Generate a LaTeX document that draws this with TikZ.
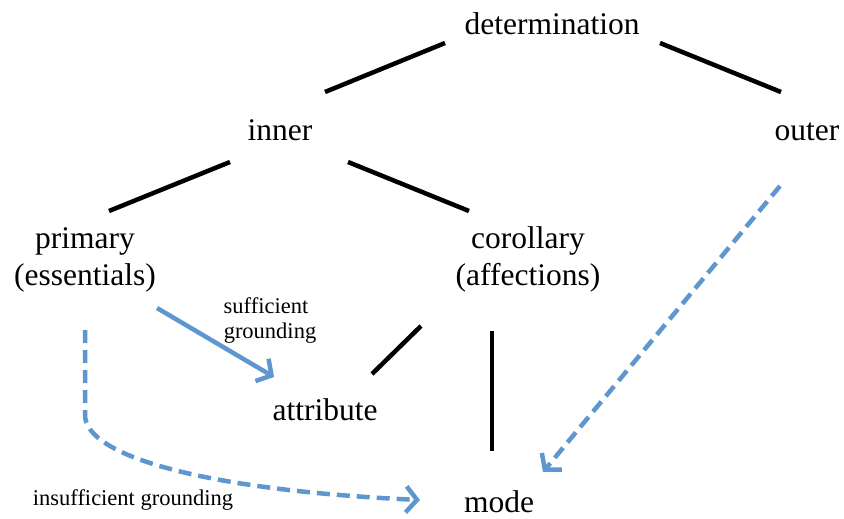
\documentclass[tikz,border=0pt]{standalone}
\usepackage{fontspec}
\setmainfont{Liberation Serif}
\usetikzlibrary{arrows.meta}
\definecolor{arrowblue}{RGB}{94,151,208}
\begin{document}
\begin{tikzpicture}[x=1pt,y=-1pt,
  term/.style={inner sep=0pt,anchor=base,font=\fontsize{31.5}{34}\selectfont,align=center},
  small/.style={inner sep=0pt,anchor=base,font=\fontsize{22.5}{24}\selectfont,align=center},
  tree/.style={line width=4.5pt,black},
  ground/.style={line width=4.5pt,arrowblue,-{Straight Barb[length=11pt,width=26pt,line width=4.5pt]}},
  dashedground/.style={ground,dash pattern=on 13pt off 7pt}]
\fill[white] (0,0) rectangle (844,519);
\useasboundingbox (0,0) rectangle (844,519);
% terms
\node[term] (det) at (552,35) {determination};
\node[term] (inner) at (280,140) {inner};
\node[term] (outer) at (807,140) {outer};
\node[term] (primary) at (85,248) {primary};
\node[term] (essentials) at (85,285) {(essentials)};
\node[term] (corollary) at (528,248) {corollary};
\node[term] (affections) at (528,285) {(affections)};
\node[term] (attribute) at (325,420) {attribute};
\node[term] (mode) at (499,512) {mode};
\node[small] (suff1) at (266,313) {sufficient};
\node[small] (suff2) at (270,338) {grounding};
\node[small] (insuff) at (133,505) {insufficient grounding};
% line ends
\coordinate (a1) at (445,43); \coordinate (a2) at (325,92);
\coordinate (b1) at (660,43); \coordinate (b2) at (781,92);
\coordinate (c1) at (230,162); \coordinate (c2) at (109,211);
\coordinate (d1) at (348,162); \coordinate (d2) at (469,211);
\coordinate (e1) at (421,326); \coordinate (e2) at (372,374);
\coordinate (f1) at (492,331); \coordinate (f2) at (492,451);
\draw[tree] (a1) -- (a2);
\draw[tree] (b1) -- (b2);
\draw[tree] (c1) -- (c2);
\draw[tree] (d1) -- (d2);
\draw[tree] (e1) -- (e2);
\draw[tree] (f1) -- (f2);
% grounding arrows
\coordinate (g1) at (157,308); \coordinate (g2) at (274,377);
\draw[ground] (g1) -- (g2);
\coordinate (h1) at (85,330); \coordinate (h2) at (85,415); \coordinate (h3) at (420,500);
\draw[dashedground] (h1) -- (h2) .. controls (85,455) and (200,490) .. (h3);
\coordinate (k1) at (780,186); \coordinate (k2) at (543,472);
\draw[dashedground] (k1) -- (k2);
\end{tikzpicture}
\end{document}
